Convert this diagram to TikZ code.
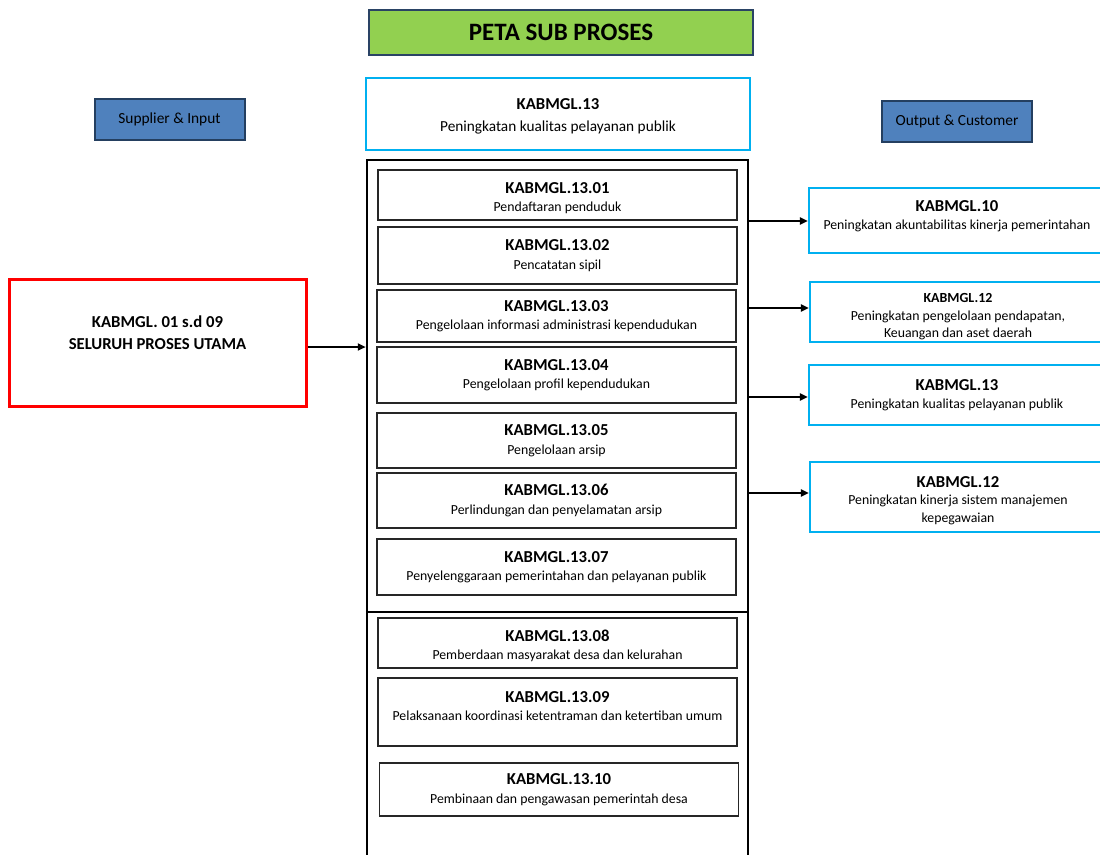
\documentclass[tikz,border=0pt]{standalone}
\usepackage{fontspec}
\setmainfont{Carlito}
\usepackage{tikz}
\usetikzlibrary{arrows.meta}
\definecolor{petagreen}{HTML}{92D050}
\definecolor{petanavy}{HTML}{2A4365}
\definecolor{tagblue}{HTML}{4F81BD}
\definecolor{tagline}{HTML}{243F60}
\definecolor{kpcyan}{HTML}{00B0F0}
\newcommand{\kode}[1]{{\fontsize{16.7}{18.5}\selectfont\bfseries #1}}
\newcommand{\naik}[1]{\rule{0pt}{#1}}
\tikzset{%
  judul/.style={draw=petanavy, fill=petagreen, line width=2.5pt, inner sep=0,
    minimum width=384pt, minimum height=45pt, font=\fontsize{25}{30}\selectfont\bfseries},
  tag/.style={draw=tagline, fill=tagblue, line width=2pt, inner sep=0,
    minimum width=150pt, minimum height=41pt, font=\fontsize{15.4}{18}\selectfont},
  kpbox/.style={draw=kpcyan, line width=2.2pt, align=center, inner sep=0,
    minimum width=296pt, font=\fontsize{13.8}{17.5}\selectfont},
  subbox/.style={draw=black!85, line width=1.3pt, align=center, inner sep=0,
    minimum width=359pt, font=\fontsize{13.8}{18.5}\selectfont},
  -arr-/.style={-{Triangle[length=8pt,width=7pt]}, line width=2pt}
}

\begin{document}
\begin{tikzpicture}[x=1pt, y=-1pt]
\useasboundingbox (0,0) rectangle (1100,854);
\clip (0,0) rectangle (1100,854);
\node[judul] (title) at (561,32.5) {PETA SUB PROSES};
\node[tag] (sup) at (169.5,119) {Supplier \& Input};
\node[tag] (out) at (957,121) {Output \& Customer};
\node[kpbox, minimum width=384pt, minimum height=72pt, font=\fontsize{15.3}{22.5}\selectfont] (top) at (558,114) {\naik{15.8pt}\kode{KABMGL.13}\\Peningkatan kualitas pelayanan publik};
\node[draw, line width=2.5pt, minimum width=381pt, minimum height=720pt, inner sep=0] (frame) at (557.5,520) {};
\draw[line width=2.5pt] (frame.west |- 0,612) -- (frame.east |- 0,612);
\node[subbox, minimum height=50pt] (s01) at (557.5,195) {\naik{16.8pt}\kode{KABMGL.13.01}\\Pendaftaran penduduk};
\node[subbox, minimum height=57pt] (s02) at (557.5,255.5) {\kode{KABMGL.13.02}\\Pencatatan sipil};
\node[subbox, minimum height=52pt] (s03) at (556.5,316) {\kode{KABMGL.13.03}\\Pengelolaan informasi administrasi kependudukan};
\node[subbox, minimum height=56pt] (s04) at (556.5,375) {\kode{KABMGL.13.04}\\Pengelolaan profil kependudukan};
\node[subbox, minimum height=55pt] (s05) at (556.5,440.5) {\kode{KABMGL.13.05}\\Pengelolaan arsip};
\node[subbox, minimum height=55pt] (s06) at (556.5,500.5) {\kode{KABMGL.13.06}\\Perlindungan dan penyelamatan arsip};
\node[subbox, minimum height=56pt] (s07) at (556.5,567) {\kode{KABMGL.13.07}\\Penyelenggaraan pemerintahan dan pelayanan publik};
\node[subbox, minimum height=50pt] (s08) at (557.5,643) {\naik{16.8pt}\kode{KABMGL.13.08}\\Pemberdaan masyarakat desa dan kelurahan};
\node[subbox, minimum height=68pt] (s09) at (557.5,712) {\kode{KABMGL.13.09}\\Pelaksanaan koordinasi ketentraman dan ketertiban umum\\[-6.5pt]~};
\node[subbox, minimum height=53pt] (s10) at (559,789.5) {\kode{KABMGL.13.10}\\Pembinaan dan pengawasan pemerintah desa};
\node[draw=red, line width=3pt, minimum width=297pt, minimum height=127pt, inner sep=0, align=center,
  font=\fontsize{16.7}{22}\selectfont\bfseries] (inp) at (157.5,343) {KABMGL. 01 s.d 09\\SELURUH PROSES UTAMA\\[-2pt]~};
\node[kpbox, minimum height=65pt] (o10) at (957,220.5) {\kode{KABMGL.10}\\Peningkatan akuntabilitas kinerja pemerintahan\\[-6.5pt]~};
\node[kpbox, minimum height=60pt] (o12a) at (958,312) {\naik{19pt}{\fontsize{13.9}{17}\selectfont\bfseries KABMGL.12}\\Peningkatan pengelolaan pendapatan,\\Keuangan dan aset daerah};
\node[kpbox, minimum height=60pt] (o13) at (957,395) {\kode{KABMGL.13}\\Peningkatan kualitas pelayanan publik};
\node[kpbox, minimum height=70pt] (o12b) at (958,497) {\naik{17.8pt}\kode{KABMGL.12}\\Peningkatan kinerja sistem manajemen\\kepegawaian};
\draw[-arr-] (inp.east |- 0,347) -- (frame.west |- 0,347);
\draw[-arr-] (frame.east |- 0,221) -- (o10.west |- 0,221);
\draw[-arr-] (frame.east |- 0,308) -- (o12a.west |- 0,308);
\draw[-arr-] (frame.east |- 0,397) -- (o13.west |- 0,397);
\draw[-arr-] (frame.east |- 0,493) -- (o12b.west |- 0,493);
\end{tikzpicture}
\end{document}
